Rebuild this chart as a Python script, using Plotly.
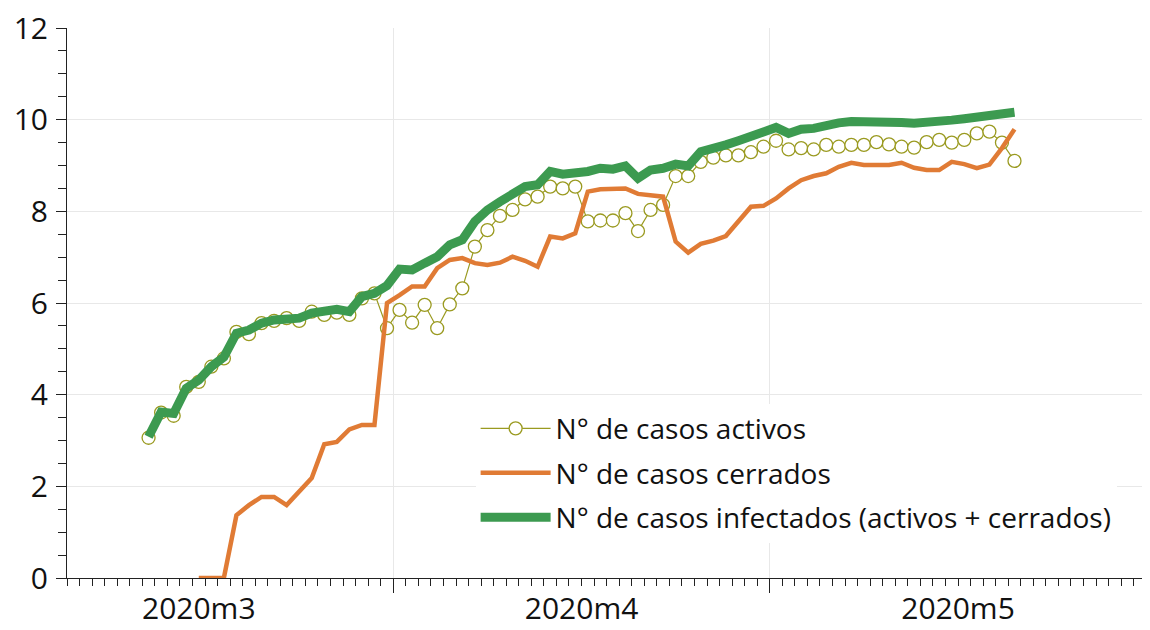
import plotly.graph_objects as go
import pandas as pd

start_day = "2020-03-12"
n_days = 70
dates = [d.strftime("%Y-%m-%d") for d in pd.date_range(start_day, periods=n_days, freq="D")]

activos = [3.06, 3.61, 3.54, 4.17, 4.28, 4.61, 4.79, 5.37, 5.32, 5.56,
           5.61, 5.67, 5.61, 5.81, 5.74, 5.79, 5.74, 6.10, 6.21, 5.45,
           5.85, 5.57, 5.96, 5.45, 5.97, 6.32, 7.23, 7.59, 7.90, 8.03,
           8.26, 8.32, 8.54, 8.50, 8.54, 7.78, 7.80, 7.80, 7.96, 7.57,
           8.03, 8.14, 8.77, 8.77, 9.08, 9.17, 9.22, 9.22, 9.29, 9.41,
           9.54, 9.35, 9.38, 9.35, 9.45, 9.41, 9.45, 9.45, 9.51, 9.46,
           9.41, 9.39, 9.51, 9.56, 9.50, 9.56, 9.70, 9.74, 9.50, 9.10]

cerrados = [None, None, None, None, 0.0, 0.0, 0.0, 1.37, 1.59, 1.77,
            1.77, 1.59, 1.88, 2.18, 2.92, 2.97, 3.24, 3.34, 3.34, 6.00,
            6.17, 6.36, 6.36, 6.76, 6.94, 6.98, 6.87, 6.83, 6.88, 7.01,
            6.92, 6.79, 7.45, 7.41, 7.52, 8.43, 8.48, 8.48, 8.50, 8.38,
            8.36, 8.32, 7.34, 7.10, 7.29, 7.36, 7.46, 7.77, 8.10, 8.12,
            8.28, 8.50, 8.68, 8.77, 8.83, 8.97, 9.06, 9.01, 9.01, 9.01,
            9.06, 8.95, 8.90, 8.90, 9.08, 9.03, 8.94, 9.02, 9.38, 9.79]

infectados = [3.08, 3.62, 3.59, 4.14, 4.32, 4.61, 4.82, 5.34, 5.41, 5.56,
              5.63, 5.67, 5.67, 5.78, 5.81, 5.86, 5.81, 6.14, 6.21, 6.38,
              6.74, 6.72, 6.87, 7.01, 7.27, 7.38, 7.78, 8.03, 8.21, 8.36,
              8.54, 8.58, 8.87, 8.81, 8.83, 8.87, 8.94, 8.92, 8.99, 8.72,
              8.90, 8.94, 9.03, 8.99, 9.30, 9.40, 9.45, 9.54, 9.63, 9.74,
              9.83, 9.70, 9.79, 9.81, 9.88, 9.93, 9.96, 9.96, 9.98, 9.95,
              9.94, 9.92, 9.93, 9.96, 9.99, 10.02, 10.05, 10.10, 10.15, 10.16]

names = ["N° de casos activos", "N° de casos cerrados",
         "N° de casos infectados (activos + cerrados)"]

FONT = "Open Sans"
DAY_MS = 86400000

fig = go.Figure()
fig.add_trace(go.Scatter(
    x=dates, y=activos, name=names[0], mode="lines+markers",
    xperiod=DAY_MS, xperiodalignment="middle",
    line=dict(color="#9a9a20", width=1.2),
    marker=dict(symbol="circle", size=13, color="white",
                line=dict(color="#9a9a20", width=1.3)),
    legendgroup="a",
))
fig.add_trace(go.Scatter(
    x=dates, y=cerrados, name=names[1], mode="lines",
    xperiod=DAY_MS, xperiodalignment="middle",
    line=dict(color="#e07b35", width=4.5),
    legendgroup="b",
))
fig.add_trace(go.Scatter(
    x=dates, y=infectados, name=names[2], mode="lines",
    xperiod=DAY_MS, xperiodalignment="middle",
    line=dict(color="#3c9a50", width=9),
    legendgroup="c",
))

fig.update_layout(
    width=1150, height=630,
    margin=dict(l=59, r=10, t=20, b=60, autoexpand=False),
    paper_bgcolor="white", plot_bgcolor="white",
    font=dict(family=FONT, size=24, color="#111111"),
    showlegend=True,
    legend=dict(
        x=0.378, y=0.317, xanchor="left", yanchor="top",
        bgcolor="white", borderwidth=0,
        font=dict(family=FONT, size=28, color="#111111"),
        tracegroupgap=5, itemwidth=70, traceorder="grouped",
    ),
    xaxis=dict(
        type="date", automargin=False,
        range=["2020-03-06", "2020-05-31 03:20"],
        tick0="2020-03-01", dtick="M1",
        ticklabelmode="period", tickformat="%Ym%-m",
        ticks="outside", ticklen=14, tickcolor="#222222", tickwidth=1,
        ticklabelstandoff=-10, ticklabeloverflow="allow",
        showgrid=True, gridcolor="#e8e8e8", gridwidth=1,
        showline=True, linecolor="#222222", linewidth=1,
        zeroline=False,
        tickfont=dict(family=FONT, size=30, color="#111111"),
        minor=dict(dtick=DAY_MS, tick0="2020-03-01", ticks="outside",
                   ticklen=7, tickcolor="#222222", showgrid=False),
    ),
    yaxis=dict(
        range=[0, 12], dtick=2, tick0=0, automargin=False,
        ticks="outside", ticklen=10, tickcolor="#222222", tickwidth=1,
        showgrid=True, gridcolor="#e8e8e8", gridwidth=1,
        showline=True, linecolor="#222222", linewidth=1,
        zeroline=False, ticklabelstandoff=2, ticklabeloverflow="allow",
        tickfont=dict(family=FONT, size=30, color="#111111"),
        minor=dict(dtick=0.5, ticks="outside", ticklen=8,
                   tickcolor="#222222", showgrid=False),
    ),
)

fig.write_html("out.html")
